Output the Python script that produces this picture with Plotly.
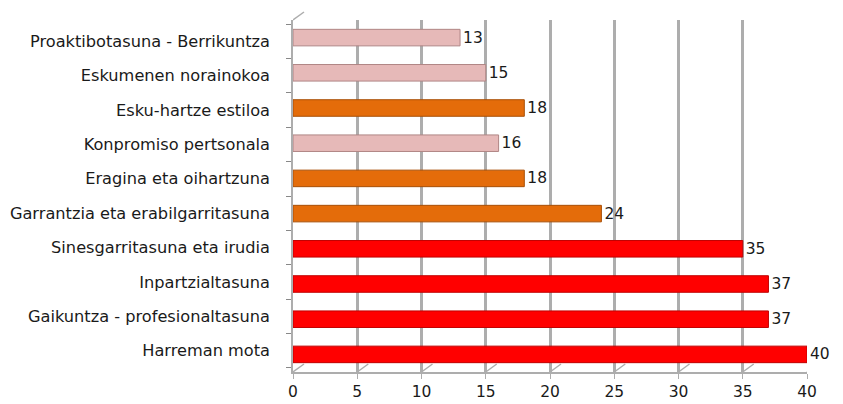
import plotly.graph_objects as go

categories = [
    "Proaktibotasuna - Berrikuntza",
    "Eskumenen norainokoa",
    "Esku-hartze estiloa",
    "Konpromiso pertsonala",
    "Eragina eta oihartzuna",
    "Garrantzia eta erabilgarritasuna",
    "Sinesgarritasuna eta irudia",
    "Inpartzialtasuna",
    "Gaikuntza - profesionaltasuna",
    "Harreman mota",
]
values = [13, 15, 18, 16, 18, 24, 35, 37, 37, 40]
groups = ["low", "low", "mid", "low", "mid", "mid", "high", "high", "high", "high"]
x_ticks = [0, 5, 10, 15, 20, 25, 30, 35, 40]

group_colors = {"low": "#E6B9B8", "mid": "#E46C0A", "high": "#FF0000"}
group_edges = {"low": "#B08685", "mid": "#A84F06", "high": "#C00000"}

W, H = 843, 404
left, right_edge = 293, 818
top, bottom = 12, 372
pw = right_edge - left
ph = bottom - top
dx, dy = 11, 8
front_x = [0, (pw - dx) / pw]
back_x = [dx / pw, 1]
front_y = [0, (ph - dy) / ph]
back_y = [dy / ph, 1]
bx, by = 4, 4
bar_x = [bx / pw, (pw - dx + bx) / pw]
bar_y = [by / ph, (ph - dy + by) / ph]

font = "DejaVu Sans, sans-serif"
txt = "#1a1a1a"

fig = go.Figure()

# invisible trace carrying the category axis at the front plane
fig.add_trace(go.Scatter(x=values, y=categories, xaxis="x", yaxis="y",
                         mode="markers", marker=dict(opacity=0),
                         hoverinfo="skip", showlegend=False))

fig.add_trace(go.Bar(
    y=categories,
    x=values,
    orientation="h",
    xaxis="x3",
    yaxis="y3",
    width=0.47,
    marker=dict(color=[group_colors[g] for g in groups],
                line=dict(color=[group_edges[g] for g in groups], width=1)),
    text=[str(v) for v in values],
    textposition="outside",
    constraintext="none",
    textfont=dict(family=font, size=15.5, color=txt),
    cliponaxis=False,
    hoverinfo="skip",
))

# invisible trace to activate back-wall axes
fig.add_trace(go.Scatter(x=[0, 40], y=[0, 1], xaxis="x2", yaxis="y2",
                         mode="markers", marker=dict(opacity=0), hoverinfo="skip",
                         showlegend=False))

shapes = []
grid_col = "#ADADAD"
for t in x_ticks:
    shapes.append(dict(type="line", xref="x", yref="paper",
                       xsizemode="pixel", xanchor=t, x0=0, x1=dx,
                       ysizemode="pixel", yanchor=0, y0=0, y1=dy,
                       line=dict(color=grid_col, width=1.5), layer="below"))
shapes.append(dict(type="line", xref="x", yref="paper",
                   xsizemode="pixel", xanchor=0, x0=0, x1=dx,
                   ysizemode="pixel", yanchor=front_y[1], y0=0, y1=dy,
                   line=dict(color=grid_col, width=1.5), layer="below"))

fig.update_layout(
    width=W, height=H,
    margin=dict(l=left, r=W - right_edge, t=top, b=H - bottom, autoexpand=False),
    paper_bgcolor="white", plot_bgcolor="rgba(0,0,0,0)",
    showlegend=False,
    shapes=shapes,
    xaxis=dict(domain=front_x, range=[0, 40], tickvals=x_ticks,
               showgrid=False, zeroline=False, automargin=False,
               showline=True, linecolor=grid_col, linewidth=1.5,
               ticks="outside", ticklen=5, tickcolor=grid_col,
               tickfont=dict(family=font, size=15.5, color=txt),
               anchor="y", fixedrange=True),
    yaxis=dict(domain=front_y, type="category", categoryarray=categories,
               categoryorder="array", autorange="reversed",
               tickmode="array", tickvals=categories,
               showgrid=False, zeroline=False, automargin=False,
               showline=True, linecolor=grid_col, linewidth=1.5,
               ticks="outside", ticklen=5, tickcolor="#888888",
               tickson="boundaries", ticklabelstandoff=18,
               tickfont=dict(family=font, size=16.2, color=txt),
               anchor="x"),
    xaxis2=dict(domain=back_x, range=[0, 40], tickvals=x_ticks,
                showgrid=True, gridcolor=grid_col, gridwidth=2.5,
                zeroline=False, showticklabels=False, ticks="", automargin=False,
                anchor="y2", overlaying="x"),
    yaxis2=dict(domain=back_y, range=[0, 1], showgrid=False, zeroline=False,
                showticklabels=False, anchor="x2", overlaying="y", automargin=False),
    xaxis3=dict(domain=bar_x, range=[0, 40], showgrid=False, zeroline=False,
                showticklabels=False, anchor="y3", overlaying="x", automargin=False),
    yaxis3=dict(domain=bar_y, type="category", categoryarray=categories,
                categoryorder="array", autorange="reversed", automargin=False,
                showgrid=False, zeroline=False, showticklabels=False,
                anchor="x3", overlaying="y"),
)

fig.write_html("out.html",
               config={"displayModeBar": False},
               post_script="document.body.style.margin='0';document.body.style.overflow='hidden';")
